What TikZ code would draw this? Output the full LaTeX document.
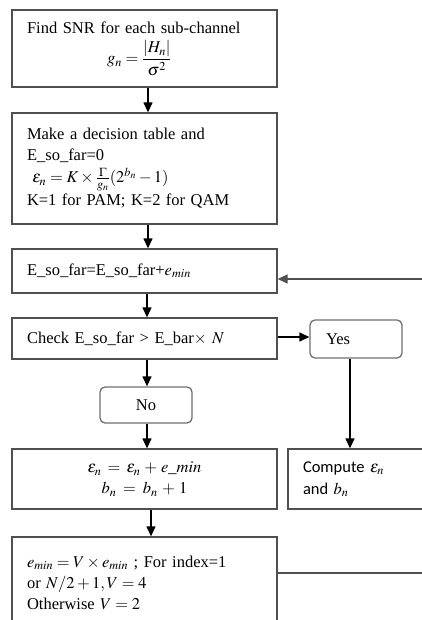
\documentclass[tikz,border=0pt]{standalone}
\usepackage{amsmath}
\usepackage{mathptmx}
\usepackage{fontspec}
\setmainfont{Liberation Serif}
\newfontfamily\calib{Carlito}
\usetikzlibrary{arrows.meta}
\definecolor{boxgray}{HTML}{505050}
\definecolor{softgray}{HTML}{707070}
\tikzset{
  txt/.style={font=\fontsize{16.5}{21}\selectfont},
  box/.style={draw=boxgray, line width=1.3pt, fill=white, txt, inner xsep=15pt, inner ysep=0pt},
  rbox/.style={draw=softgray, line width=1.3pt, rounded corners=5pt, txt, inner sep=0pt},
  arr/.style={draw=black, line width=1.3pt, -{Triangle[length=10pt,width=9pt]}},
  ln/.style={draw=boxgray, line width=1.3pt},
}
\begin{document}
\begin{tikzpicture}[x=1pt,y=-1pt]
\useasboundingbox (0,0) rectangle (422,620);
\fill[white] (0,0) rectangle (422,620);

\node[box, minimum width=265pt, minimum height=77pt, text width=235pt, align=left] (b1) at (144.5,48.5)
  {Find SNR for each sub-channel\\[6pt] \hspace*{80pt}$g_n=\dfrac{|H_n|}{\sigma^2}$};

\node[box, minimum width=265pt, minimum height=111pt, text width=235pt, align=left] (b2) at (144.5,168.5)
  {Make a decision table and\\ E\_so\_far=0\\[1pt] \ $\varepsilon_n = K\times\frac{\Gamma}{g_n}(2^{b_n}-1)$\\[2pt] K=1 for PAM; K=2 for QAM};

\node[box, minimum width=265pt, minimum height=44pt, text width=235pt, align=left] (b3) at (144.5,271)
  {E\_so\_far=E\_so\_far+$e_{min}$};

\node[box, minimum width=265pt, minimum height=41pt, text width=235pt, align=left] (b4) at (144.5,338.5)
  {Check E\_so\_far > E\_bar$\times$ $N$};

\node[rbox, minimum width=92pt, minimum height=38pt, text width=76pt, align=left] (yes) at (356,339)
  {\hspace*{8pt}Yes};

\node[rbox, minimum width=92pt, minimum height=36pt, align=center] (no) at (146,405) {No};

\node[box, minimum width=265pt, minimum height=60pt, text width=235pt, align=center] (b5) at (144.5,479)
  {$\varepsilon_n=\varepsilon_n+e\_min$\\ $b_n=b_n+1$};

\node[box, minimum width=142pt, minimum height=60pt, text width=112pt, inner xsep=15pt, align=left, font=\calib\fontsize{16.5}{22}\selectfont] (cmp) at (359,479)
  {Compute $\varepsilon_n$\\ and $b_n$};

\node[box, minimum width=265pt, minimum height=91pt, text width=235pt, align=left] (b6) at (144.5,582.5)
  {$e_{min}=V\times e_{min}$ ; For index=1\\ or $N/2+1, V=4$\\ Otherwise $V=2$};

% connectors
\draw[arr] (b1.south -| 148,0) -- (b2.north -| 148,0);
\draw[arr] (b2.south -| 148,0) -- (b3.north -| 148,0);
\draw[arr] (b3.south -| 147,0) -- (b4.north -| 147,0);
\draw[arr] (b4.east |- 0,337) -- (yes.west |- 0,337);
\draw[arr] (b4.south -| 147,0) -- (no.north -| 147,0);
\draw[arr] (no.south -| 147,0) -- (b5.north -| 147,0);
\draw[arr] (yes.south -| 350,0) -- (cmp.north -| 350,0);
\draw[arr] (b5.south -| 151,0) -- (b6.north -| 151,0);
\coordinate (loopA) at (432,573);
\coordinate (loopB) at (432,279);
\draw[ln] (b6.east |- loopA) -- (loopA) -- (loopB);
\draw[arr, draw=boxgray] (loopB) -- (b3.east |- loopB);
\end{tikzpicture}
\end{document}
